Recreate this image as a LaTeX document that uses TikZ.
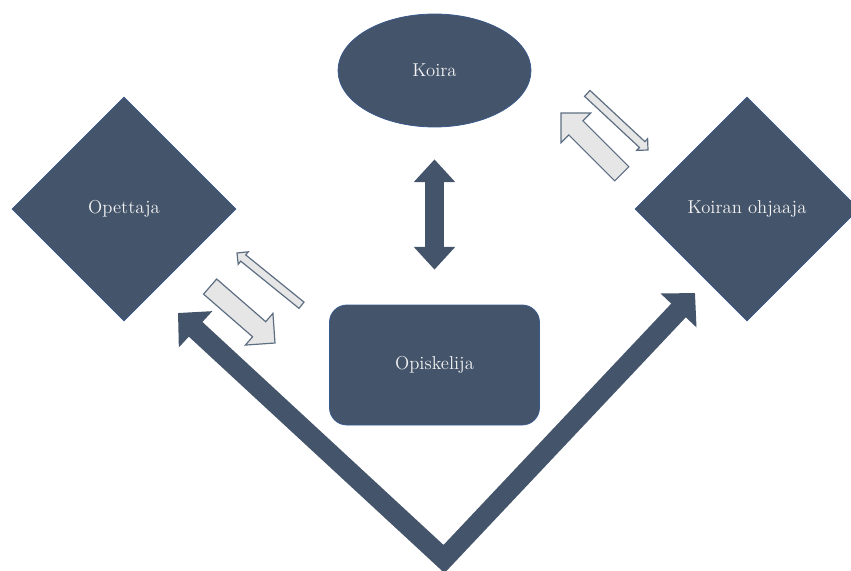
\documentclass[tikz,border=0pt]{standalone}
\usetikzlibrary{shapes.geometric}
\usetikzlibrary{arrows.meta}
\definecolor{slate}{HTML}{44546A}
\definecolor{slateedge}{HTML}{3A5A8C}
\definecolor{pale}{HTML}{E7E6E6}
\definecolor{paleedge}{HTML}{5E6E82}
\definecolor{labelwhite}{HTML}{F2F2F2}

\begin{document}
\begin{tikzpicture}[x=0.75pt, y=-0.75pt,
        darkbox/.style = {draw=slateedge, line width=0.6pt, fill=slate,
            text=labelwhite, font=\fontsize{14}{16}\selectfont, inner sep=0pt},
        dia/.style = {darkbox, diamond, minimum width=168pt, minimum height=168pt},
        oval/.style = {darkbox, ellipse, minimum width=144.75pt, minimum height=84.75pt},
        card/.style = {darkbox, rounded corners=13pt, minimum width=157.5pt, minimum height=90pt},
        bigway/.style = {slate, line width=15pt, line join=miter,
            {Triangle[width=36pt,length=18pt]}-{Triangle[width=36pt,length=18pt]}},
        updown/.style = {slate, line width=14.25pt,
            {Triangle[width=30pt,length=17pt]}-{Triangle[width=30pt,length=17pt]}},
        hollow/.style = {draw=paleedge, fill=pale, line width=0.9pt, line join=miter},
        bigblk/.pic = {\path[hollow] (0,0) -- (-21,21) -- (-21,10) -- (-86,10)
            -- (-86,-10) -- (-21,-10) -- (-21,-21) -- cycle;},
        smallblk/.pic = {\path[hollow] (0,0) -- (-8,8) -- (-8,4) -- (-83,4)
            -- (-83,-4) -- (-8,-4) -- (-8,-8) -- cycle;}]
    \useasboundingbox (0,0) rectangle (851,571);
    \node[oval] (koira) at (434.5,70.5) {Koira};
    \node[dia] (opet) at (124,209) {Opettaja};
    \node[dia] (ohj) at (747,209) {Koiran ohjaaja};
    \node[card] (opis) at (434.5,365) {Opiskelija};
    \draw[updown, shorten <=24pt, shorten >=26.25pt] (koira.south) -- (opis.north);
    \coordinate (vl) at (178,313);
    \coordinate (vb) at (444,559);
    \coordinate (vr) at (695,293);
    \draw[bigway] (vl) -- (vb) -- (vr);
    \coordinate (h1) at (561,113);
    \coordinate (h2) at (648,150);
    \coordinate (h3) at (237,253);
    \coordinate (h4) at (275,343);
    \pic[rotate=135] at (h1) {bigblk};
    \pic[rotate=-43] at (h2) {smallblk};
    \pic[rotate=141] at (h3) {smallblk};
    \pic[rotate=-41] at (h4) {bigblk};
\end{tikzpicture}
\end{document}
